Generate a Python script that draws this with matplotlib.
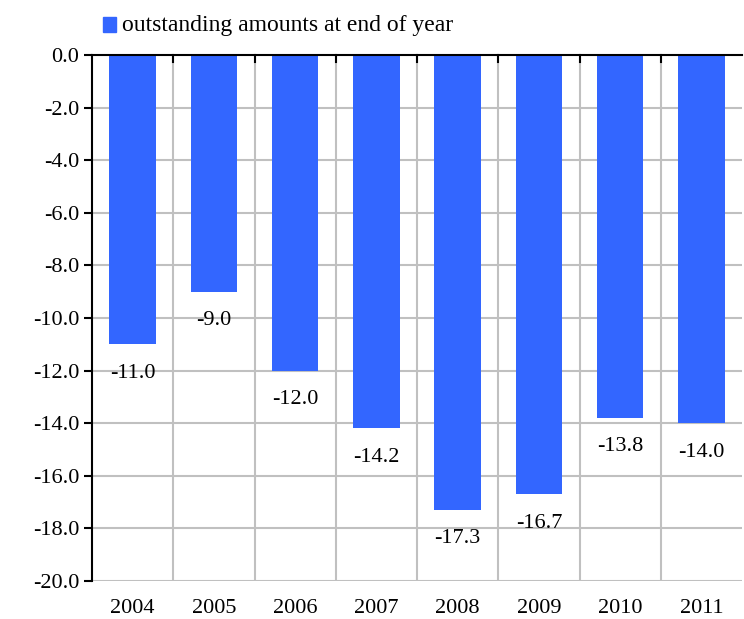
import matplotlib.pyplot as plt
from matplotlib.patches import Rectangle
import numpy as np

years = ['2004', '2005', '2006', '2007', '2008', '2009', '2010', '2011']
amounts = [-11.0, -9.0, -12.0, -14.2, -17.3, -16.7, -13.8, -14.0]
series_name = 'outstanding amounts at end of year'

plt.rcParams['font.family'] = ['Liberation Serif', 'DejaVu Serif']
bar_color = '#3366ff'
grid_color = '#c0c0c0'

fig = plt.figure(figsize=(7.44, 6.19), dpi=100)
ax = fig.add_axes([92 / 744, 1 - 581 / 619, 650 / 744, 526 / 619])

x = np.arange(len(years))
ax.bar(x, amounts, width=0.57, color=bar_color, zorder=3)

for xi, v in zip(x, amounts):
    ax.annotate(f'{v:.1f}', (xi, v), xytext=(0, -14), textcoords='offset points',
                ha='center', va='top', fontsize=16, zorder=4)

ax.set_xlim(-0.5, len(years) - 0.5)
ax.set_ylim(-20, 0)
ax.set_yticks(np.arange(-20, 0.1, 2))
ax.set_yticklabels([f'{t:.1f}' for t in np.arange(-20, 0.1, 2)], fontsize=16)
ax.set_xticks(x)
ax.set_xticklabels(years, fontsize=16)
ax.tick_params(axis='x', length=0, pad=13)
ax.tick_params(axis='y', length=6, width=1.5, direction='out', pad=3)

# horizontal grid plus category separators
for t in np.arange(-20, 0, 2):
    ax.axhline(t, color=grid_color, lw=1.5, zorder=1)
for b in np.arange(0.5, len(years) - 0.5, 1):
    ax.axvline(b, color=grid_color, lw=1.5, zorder=1)
    ax.plot([b, b], [0, -0.25], color='black', lw=1.5, zorder=5, clip_on=False)

for side in ['right', 'bottom']:
    ax.spines[side].set_visible(False)
ax.spines['left'].set_linewidth(1.5)
ax.spines['top'].set_linewidth(1.5)
ax.spines['left'].set_zorder(5)
ax.spines['top'].set_zorder(5)

# legend entry above the plot
fig.patches.append(Rectangle((103 / 744, 1 - 32 / 619), 13 / 744, 15 / 619,
                             transform=fig.transFigure, color=bar_color))
fig.text(122 / 744, 1 - 26 / 619, series_name, fontsize=17, va='center', ha='left')

plt.savefig('out.png', dpi=100)
